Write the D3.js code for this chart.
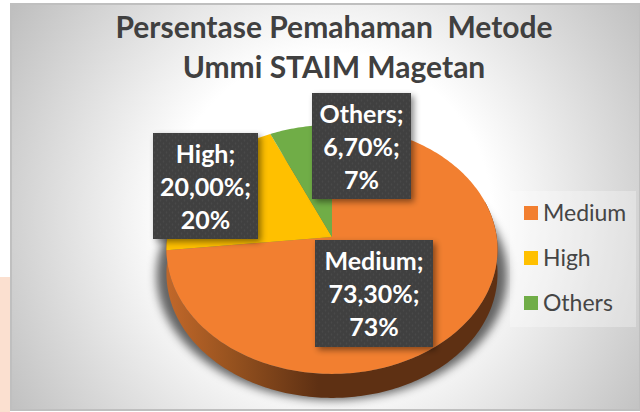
<!DOCTYPE html>
<html>
<head>
<meta charset="utf-8">
<script src="https://cdn.jsdelivr.net/npm/d3@7"></script>
<style>
  html, body { margin: 0; padding: 0; background: #fff; overflow: hidden; }
  text { font-family: Lato, "Open Sans", sans-serif; }
</style>
</head>
<body>
<div class="chart"></div>
<script>
const titleLines = ["Persentase Pemahaman  Metode", "Ummi STAIM Magetan"];
const categories = ["Medium", "High", "Others"];
const percentValues = [73.3, 20.0, 6.7];
const valueLabels = ["73,30%", "20,00%", "6,70%"];
const shareLabels = ["73%", "20%", "7%"];
const sliceColors = ["#f27f30", "#ffc000", "#70ad47"];

const w = 640;
const h = 412;

const svg = d3.select(".chart").append("svg")
    .attr("width", w)
    .attr("height", h)
    .style("display", "block");

const defs = svg.append("defs");

const bg = defs.append("radialGradient")
    .attr("id", "bg")
    .attr("gradientUnits", "userSpaceOnUse")
    .attr("cx", 330).attr("cy", 215).attr("r", 385);
bg.append("stop").attr("offset", "0.42").attr("stop-color", "#ffffff");
bg.append("stop").attr("offset", "1").attr("stop-color", "#bdbdbd");

const side = defs.append("linearGradient")
    .attr("id", "side")
    .attr("gradientUnits", "userSpaceOnUse")
    .attr("x1", 166).attr("x2", 497).attr("y1", 0).attr("y2", 0);
side.append("stop").attr("offset", "0").attr("stop-color", "#c2682a");
side.append("stop").attr("offset", "0.2").attr("stop-color", "#96521f");
side.append("stop").attr("offset", "0.46").attr("stop-color", "#5e3013");
side.append("stop").attr("offset", "1").attr("stop-color", "#5e3013");

defs.append("filter").attr("id", "blur")
    .attr("x", "-20%").attr("y", "-20%").attr("width", "140%").attr("height", "140%")
    .append("feGaussianBlur").attr("stdDeviation", 5);

const drop = defs.append("filter").attr("id", "drop")
    .attr("x", "-20%").attr("y", "-20%").attr("width", "140%").attr("height", "140%");
drop.append("feDropShadow")
    .attr("dx", 3).attr("dy", 3).attr("stdDeviation", 3)
    .attr("flood-color", "#000").attr("flood-opacity", 0.45);

const dots = defs.append("pattern").attr("id", "dots")
    .attr("patternUnits", "userSpaceOnUse")
    .attr("width", 6).attr("height", 6);
dots.append("rect").attr("width", 6).attr("height", 6).attr("fill", "#3f3f3f");
dots.append("circle").attr("cx", 1.5).attr("cy", 1.5).attr("r", 0.9).attr("fill", "#4a4a4a");
dots.append("circle").attr("cx", 4.5).attr("cy", 4.5).attr("r", 0.9).attr("fill", "#4a4a4a");

// page behind the chart, a bit of the slide shows on the left
svg.append("rect").attr("x", 0).attr("y", 277).attr("width", 10).attr("height", h - 277).attr("fill", "#fbe0d0");

// chart area
svg.append("rect")
    .attr("x", 11).attr("y", 4)
    .attr("width", w - 11).attr("height", h - 6)
    .attr("fill", "url(#bg)")
    .attr("stroke", "#bfbfbf")
    .attr("stroke-width", 2);

svg.selectAll(".title")
    .data(titleLines)
    .enter().append("text")
    .attr("class", "title")
    .attr("x", 334)
    .attr("y", (d, i) => 38 + i * 40)
    .attr("text-anchor", "middle")
    .style("white-space", "pre")
    .attr("font-size", 30)
    .attr("font-weight", 700)
    .attr("fill", "#404040")
    .text(d => d);

// pie is drawn flat then tilted with a perspective map, so front looks bigger
const cx = 332;
const cy = 237;
const radius = 164.7;
const tiltY = 123.2;
const persp = -0.1;
const depth = 24;

function project(angle) {
    const u = Math.sin(angle);
    const v = -Math.cos(angle);
    const k = 1 + persp * v;
    return [cx + radius * u / k, cy + tiltY * v / k];
}

function rimPoints(a0, a1) {
    const n = Math.max(2, Math.ceil(Math.abs(a1 - a0) * 60));
    return d3.range(n + 1).map(i => project(a0 + (a1 - a0) * i / n));
}

const pie = d3.pie().sort(null)(percentValues);
const line = d3.line();

// ground shadow under the pie, lifted so it stays behind the top of the pie
const shadowPts = rimPoints(0, 2 * Math.PI).map(p => [cx + (p[0] - cx) * 1.06, p[1] + depth + 2]);
svg.append("path")
    .attr("d", line(shadowPts) + "Z")
    .attr("fill", "#000")
    .attr("fill-opacity", 0.6)
    .attr("filter", "url(#blur)");

// side wall
const rim = rimPoints(Math.PI / 2 - 0.3, 3 * Math.PI / 2 + 0.3);
const wall = rim.concat(rim.slice().reverse().map(p => [p[0], p[1] + depth]));
svg.append("path")
    .attr("d", line(wall) + "Z")
    .attr("fill", "url(#side)");

// top face
svg.selectAll(".slice")
    .data(pie)
    .enter().append("path")
    .attr("class", "slice")
    .attr("d", d => line([[cx, cy]].concat(rimPoints(d.startAngle, d.endAngle))) + "Z")
    .attr("fill", (d, i) => sliceColors[i]);

// data labels
const labelBoxes = [
    { x: 315, y: 240, w: 118, h: 107 },
    { x: 153, y: 133, w: 105, h: 106 },
    { x: 312, y: 93, w: 99, h: 106 }
];

const labels = svg.selectAll(".label")
    .data(categories)
    .enter().append("g")
    .attr("class", "label")
    .attr("transform", (d, i) => `translate(${labelBoxes[i].x},${labelBoxes[i].y})`);

labels.append("rect")
    .attr("width", (d, i) => labelBoxes[i].w)
    .attr("height", (d, i) => labelBoxes[i].h)
    .attr("fill", "url(#dots)")
    .attr("filter", "url(#drop)");

labels.each(function(d, i) {
    const lines = [d + ";", valueLabels[i] + ";", shareLabels[i]];
    d3.select(this).selectAll("text")
        .data(lines)
        .enter().append("text")
        .attr("x", labelBoxes[i].w / 2)
        .attr("y", (t, j) => 30 + j * 33)
        .attr("text-anchor", "middle")
        .attr("font-size", 25)
        .attr("font-weight", 700)
        .attr("fill", "#fff")
        .text(t => t);
});

// legend
svg.append("rect")
    .attr("x", 510).attr("y", 191)
    .attr("width", 126).attr("height", 136)
    .attr("fill", "#fff").attr("opacity", 0.3);

const legendY = d3.scalePoint().domain(categories).range([213, 303]);

const legend = svg.selectAll(".legend")
    .data(categories)
    .enter().append("g")
    .attr("class", "legend")
    .attr("transform", d => `translate(524,${legendY(d)})`);

legend.append("rect")
    .attr("y", -7)
    .attr("width", 14).attr("height", 14)
    .attr("fill", (d, i) => sliceColors[i]);

legend.append("text")
    .attr("x", 19)
    .attr("y", 8)
    .attr("font-size", 23)
    .attr("fill", "#454545")
    .text(d => d);
</script>
</body>
</html>
